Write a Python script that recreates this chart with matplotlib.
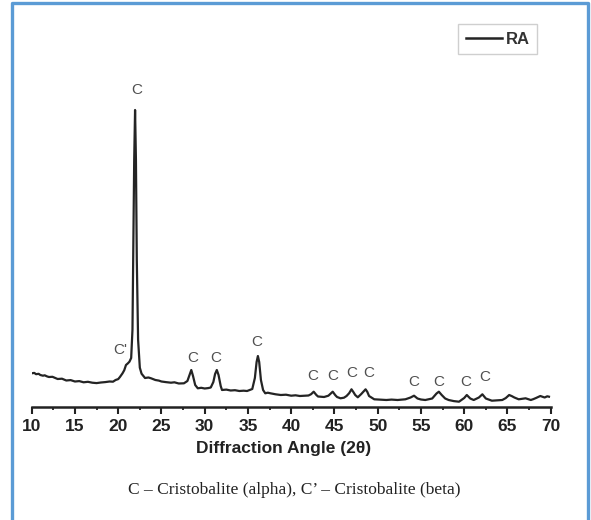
import matplotlib
matplotlib.use("Agg")
import matplotlib.pyplot as plt
from matplotlib.lines import Line2D

# XRD pattern of RA (2theta in degrees, intensity in a.u.)
two_theta = [10.0, 10.3, 10.5, 10.8, 11.0, 11.3, 11.5, 11.8, 12.0, 12.4, 13.0, 13.5,
             14.0, 14.5, 15.0, 15.5, 16.0, 16.5, 17.0, 17.5, 18.0, 18.5, 19.0, 19.4,
             19.7, 20.0, 20.2, 20.5, 20.7, 20.9, 21.1, 21.3, 21.5, 21.65, 21.75, 21.85,
             21.95, 22.05, 22.15, 22.3, 22.5, 22.7, 23.1, 23.5, 23.8, 24.3, 24.7, 25.0,
             25.5, 26.1, 26.5, 27.0, 27.6, 28.0, 28.25, 28.45, 28.65, 28.9, 29.2, 29.6,
             30.0, 30.4, 30.7, 31.0, 31.2, 31.4, 31.6, 31.85, 32.0, 32.5, 33.0, 33.5,
             34.0, 34.5, 34.9, 35.5, 35.8, 36.0, 36.15, 36.3, 36.5, 36.75, 37.0, 37.3,
             37.6, 38.2, 38.8, 39.4, 40.0, 40.5, 41.0, 41.5, 42.0, 42.3, 42.6, 42.9,
             43.1, 43.8, 44.3, 44.8, 45.1, 45.3, 45.7, 46.1, 46.4, 46.7, 46.97, 47.2,
             47.4, 47.7, 48.1, 48.4, 48.6, 48.8, 49.0, 49.6, 50.3, 51.0, 51.6, 52.3,
             53.2, 53.8, 54.2, 54.6, 55.0, 55.5, 56.3, 56.8, 57.07, 57.4, 57.8, 58.2,
             58.8, 59.4, 60.0, 60.3, 60.7, 61.1, 61.7, 62.1, 62.5, 63.2, 63.8, 64.4,
             64.8, 65.2, 65.5, 65.8, 66.3, 66.7, 67.1, 67.4, 67.7, 68.0, 68.3, 68.8,
             69.1, 69.3, 69.6, 69.8]
intensity = [33.4, 33.8, 32.5, 32.9, 31.7, 31.0, 31.4, 30.2, 29.7, 29.9, 27.7, 28.0,
             26.2, 26.6, 25.2, 25.6, 24.4, 24.9, 24.0, 23.6, 24.2, 24.6, 25.2, 25.0,
             26.7, 27.6, 29.7, 33.4, 36.5, 41.7, 43.2, 45.0, 48.7, 77.0, 157.0, 247.0,
             296.7, 247.0, 147.0, 67.0, 39.0, 33.0, 28.7, 29.2, 28.4, 26.7, 26.1, 25.2,
             24.6, 24.0, 24.4, 23.2, 23.4, 25.7, 31.7, 36.7, 30.7, 21.7, 18.4, 18.9,
             18.2, 18.6, 19.2, 24.7, 32.7, 36.7, 31.7, 20.7, 16.7, 17.1, 16.2, 16.5,
             15.7, 16.0, 15.7, 17.7, 28.7, 44.7, 50.7, 44.7, 26.7, 16.7, 13.4, 14.0,
             13.4, 12.4, 11.7, 12.0, 11.0, 11.4, 10.7, 11.0, 11.2, 12.5, 15.0, 11.8,
             10.2, 9.7, 11.0, 15.0, 11.5, 9.7, 8.4, 9.0, 10.7, 13.5, 17.4, 14.5,
             11.7, 9.4, 12.7, 15.5, 17.4, 14.8, 10.7, 7.4, 7.0, 6.7, 7.1, 6.7,
             7.4, 9.2, 11.0, 8.2, 7.2, 6.7, 8.2, 13.2, 15.0, 11.7, 8.2, 6.7,
             5.6, 5.0, 8.7, 11.7, 8.2, 6.7, 9.2, 12.4, 8.2, 6.0, 6.4, 6.7,
             8.6, 11.7, 10.6, 9.2, 7.4, 7.9, 8.4, 7.5, 6.7, 7.6, 8.7, 10.7,
             9.8, 9.2, 10.4, 10.0]

# phase labels over the reflections
peak_labels = ["C'", "C", "C", "C", "C", "C", "C", "C", "C", "C", "C", "C", "C"]
label_theta = [20.21, 22.17, 28.61, 31.27, 36.01, 42.49, 44.75, 46.99, 48.91,
               54.12, 57.01, 60.21, 62.41]
label_height = [56.7, 316.7, 48.4, 48.4, 64.4, 30.7, 30.7, 33.4, 33.4,
                24.4, 24.4, 24.4, 29.4]

x_ticks = [10, 15, 20, 25, 30, 35, 40, 45, 50, 55, 60, 65, 70]

W, H = 591, 520
sans = "Liberation Sans"

fig = plt.figure(figsize=(W / 100, H / 100), dpi=100)
ax = fig.add_axes([31.7 / W, 1 - 406.7 / H, 519 / W, 386.7 / H])

ax.plot(two_theta, intensity, color="#242424", lw=1.6, label="RA")

for txt, tx, ty in zip(peak_labels, label_theta, label_height):
    ax.text(tx, ty, txt, ha="center", va="center", fontsize=11,
            family=sans, color="#505050")

ax.set_xlim(10, 70)
ax.set_ylim(0, 386.7)
ax.set_yticks([])
for s in ["left", "right", "top"]:
    ax.spines[s].set_visible(False)
ax.spines["bottom"].set_linewidth(1.8)
ax.spines["bottom"].set_color("#222222")

ax.set_xticks(x_ticks)
ax.set_xticks([t + 2.5 for t in x_ticks[:-1]], minor=True)
ax.tick_params(axis="x", which="major", direction="out", length=5, width=1.5,
               pad=4, colors="#222222")
ax.tick_params(axis="x", which="minor", direction="out", length=2.5, width=1.3,
               colors="#222222")
for lab in ax.get_xticklabels():
    lab.set_fontfamily(sans)
    lab.set_fontweight("bold")
    lab.set_fontsize(12.5)

ax.set_xlabel("Diffraction Angle (2θ)", fontsize=12.5, fontweight="bold",
              family=sans, color="#222222")
ax.xaxis.set_label_coords((284 - 31.7) / 519, -0.088)

leg = ax.legend(loc="upper right", bbox_to_anchor=(537 / W, 1 - 24 / H),
                bbox_transform=fig.transFigure, borderaxespad=0, fancybox=False,
                handlelength=2.2, handletextpad=0.2, borderpad=0.45,
                prop={"family": sans, "size": 12, "weight": "bold"})
leg.get_frame().set_edgecolor("#c4c4c4")
leg.get_frame().set_linewidth(1.0)
leg.get_lines()[0].set_linewidth(1.8)
leg.get_texts()[0].set_color("#333333")

fig.text(0.5 * (127 + 461) / W, 1 - 490 / H,
         "C – Cristobalite (alpha), C’ – Cristobalite (beta)",
         ha="center", va="center", fontsize=12.5, family="Liberation Serif",
         color="#222222")

# blue frame around the figure (open at the bottom)
fx = [11.5 / W, 11.5 / W, 588 / W, 588 / W]
fy = [-0.02, 1 - 3 / H, 1 - 3 / H, -0.02]
fig.add_artist(Line2D(fx, fy, transform=fig.transFigure, color="#5b9bd5", lw=2.4))

fig.savefig("out.png", dpi=100)
